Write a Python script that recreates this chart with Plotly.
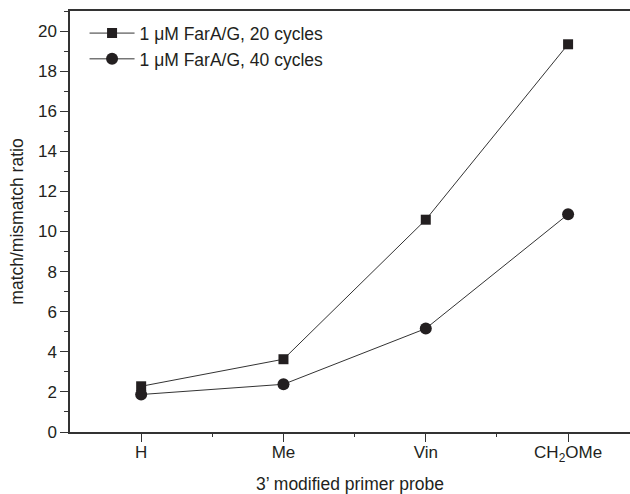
import plotly.graph_objects as go

categories = ["H", "Me", "Vin", "CH<sub>2</sub>OMe"]
series_20_cycles = [2.28, 3.63, 10.59, 19.34]
series_40_cycles = [1.87, 2.38, 5.16, 10.86]
series_names = ["1 μM FarA/G, 20 cycles", "1 μM FarA/G, 40 cycles"]
y_tick_values = [0, 2, 4, 6, 8, 10, 12, 14, 16, 18, 20]

xpos = list(range(1, len(categories) + 1))

fig = go.Figure()
fig.add_trace(go.Scatter(
    x=xpos, y=series_20_cycles, name=series_names[0], mode="lines+markers",
    line=dict(color="#333333", width=1),
    marker=dict(symbol="square", size=10, color="#231f20"),
))
fig.add_trace(go.Scatter(
    x=xpos, y=series_40_cycles, name=series_names[1], mode="lines+markers",
    line=dict(color="#333333", width=1),
    marker=dict(symbol="circle", size=12, color="#231f20"),
))

font_family = "Liberation Sans, Arial, sans-serif"
fig.update_layout(
    width=630, height=494,
    margin=dict(l=70, r=0, t=11, b=62),
    paper_bgcolor="white", plot_bgcolor="white",
    font=dict(family=font_family, size=17, color="#231f20"),
    showlegend=True,
    legend=dict(x=0.026, y=0.99, xanchor="left", yanchor="top",
                bgcolor="rgba(0,0,0,0)", font=dict(size=17.5, color="#231f20"),
                itemwidth=45, tracegroupgap=0),
    xaxis=dict(
        range=[0.5, 4.435], tickmode="array", tickvals=xpos, ticktext=categories,
        automargin=False, ticklabelstandoff=-4,
        showgrid=False, zeroline=False, showline=True, linecolor="#333333", linewidth=1.5,
        mirror=True, ticks="outside", ticklen=8, tickcolor="#333333", tickwidth=1,
        minor=dict(tickmode="array", tickvals=[1.5, 2.5, 3.5], ticks="outside", ticklen=3,
                   tickcolor="#333333", tickwidth=1),
        title=dict(text="3’ modified primer probe", standoff=20, font=dict(size=17.5)),
        tickfont=dict(size=17),
    ),
    yaxis=dict(
        range=[0, 21], tickmode="array", tickvals=y_tick_values,
        automargin=False,
        showgrid=False, zeroline=False, showline=True, linecolor="#333333", linewidth=1.5,
        ticks="outside", ticklen=8, tickcolor="#333333", tickwidth=1,
        minor=dict(dtick=1, tick0=0, ticks="outside", ticklen=4, tickcolor="#333333", tickwidth=1),
        title=dict(text="match/mismatch ratio", standoff=10, font=dict(size=17.5)),
        tickfont=dict(size=17),
    ),
)

fig.write_html("out.html", config={"displayModeBar": False},
               post_script="document.body.style.margin='0px';document.body.style.overflow='hidden';")
